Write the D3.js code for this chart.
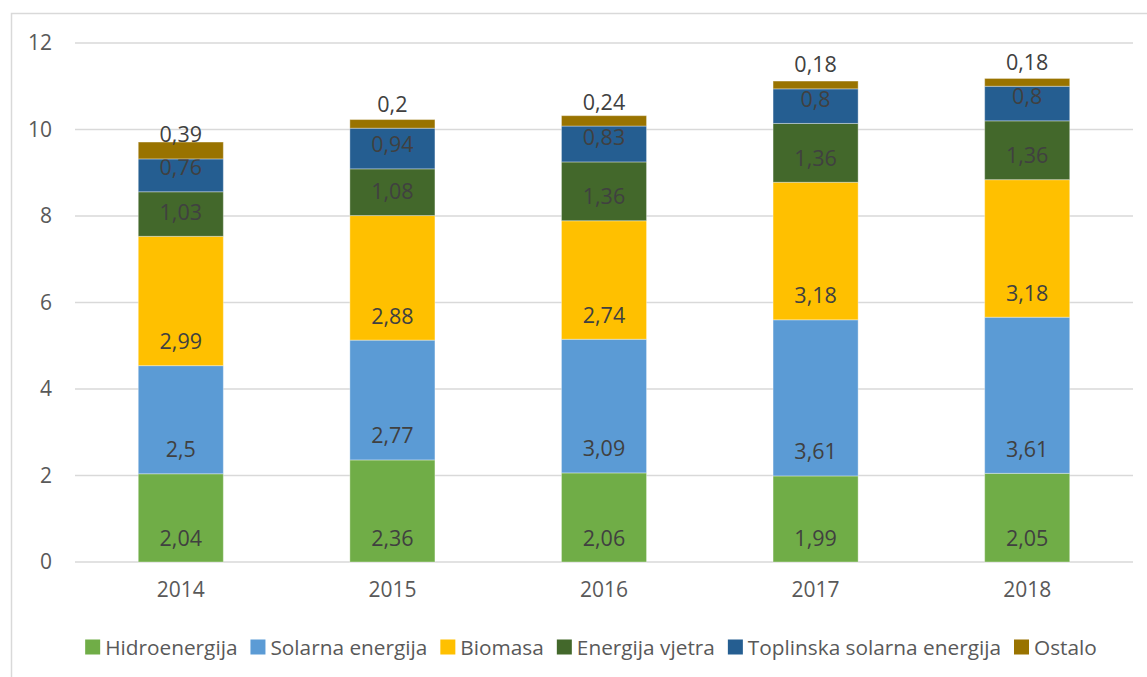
<!DOCTYPE html>
<html>
<head>
<meta charset="utf-8">
<script src="https://cdn.jsdelivr.net/npm/d3@7"></script>
<style>
  body { margin: 0; background: #fff; }
  svg text { font-family: "Open Sans", sans-serif; }
</style>
</head>
<body>
<script>
const years = ["2014", "2015", "2016", "2017", "2018"];
const seriesNames = ["Hidroenergija", "Solarna energija", "Biomasa", "Energija vjetra", "Toplinska solarna energija", "Ostalo"];
const hidro = [2.04, 2.36, 2.06, 1.99, 2.05];
const solarna = [2.5, 2.77, 3.09, 3.61, 3.61];
const biomasa = [2.99, 2.88, 2.74, 3.18, 3.18];
const vjetar = [1.03, 1.08, 1.36, 1.36, 1.36];
const toplinska = [0.76, 0.94, 0.83, 0.8, 0.8];
const ostalo = [0.39, 0.2, 0.24, 0.18, 0.18];
const yTicks = [0, 2, 4, 6, 8, 10, 12];
const colors = ["#70AD47", "#5B9BD5", "#FFC000", "#43682B", "#255E91", "#997300"];

const width = 1147;
const height = 677;
const plotLeft = 75, plotRight = 1133, plotTop = 43, plotBottom = 562;

const seriesValues = [hidro, solarna, biomasa, vjetar, toplinska, ostalo];
const rows = years.map((yr, i) => {
    const row = { year: yr };
    seriesNames.forEach((s, k) => { row[s] = seriesValues[k][i]; });
    return row;
});
const stacked = d3.stack().keys(seriesNames)(rows);

const svg = d3.select("body")
    .append("svg")
    .attr("width", width)
    .attr("height", height);

// chart frame (cut by the image edge on right and bottom)
svg.append("rect")
    .attr("x", 11.5)
    .attr("y", 13.5)
    .attr("width", width + 20)
    .attr("height", height + 20)
    .attr("fill", "none")
    .attr("stroke", "#D9D9D9")
    .attr("stroke-width", 1.5);

const x = d3.scaleBand()
    .domain(years)
    .range([plotLeft, plotRight])
    .paddingInner(0.598)
    .paddingOuter(0.299);

const y = d3.scaleLinear()
    .domain([0, 12])
    .range([plotBottom, plotTop]);

// gridlines
svg.append("g")
    .selectAll("line")
    .data(yTicks)
    .join("line")
    .attr("x1", plotLeft)
    .attr("x2", plotRight)
    .attr("y1", d => y(d))
    .attr("y2", d => y(d))
    .attr("stroke", "#D9D9D9")
    .attr("stroke-width", 1.5);

const yAxis = svg.append("g")
    .attr("transform", `translate(${plotLeft},0)`)
    .call(d3.axisLeft(y).tickValues(yTicks).tickSize(0).tickPadding(23));
yAxis.select(".domain").remove();
yAxis.selectAll("text")
    .attr("fill", "#595959")
    .style("font-size", "21px");

const xAxis = svg.append("g")
    .attr("transform", `translate(0,${plotBottom})`)
    .call(d3.axisBottom(x).tickSize(0).tickPadding(20));
xAxis.select(".domain").remove();
xAxis.selectAll("text")
    .attr("fill", "#595959")
    .style("font-size", "21px");

// bars
const layers = svg.append("g")
    .selectAll("g")
    .data(stacked)
    .join("g")
    .attr("fill", (d, i) => colors[i]);

layers.selectAll("rect")
    .data(d => d)
    .join("rect")
    .attr("x", d => x(d.data.year))
    .attr("width", x.bandwidth())
    .attr("y", d => y(d[1]))
    .attr("height", d => y(d[0]) - y(d[1]))
    .attr("stroke", "#ffffff")
    .attr("stroke-opacity", 0.35)
    .attr("stroke-width", 1);

// labels sit inside base of each segment
const fmt = v => String(v).replace(".", ",");
layers.each(function(layer) {
    d3.select(this).selectAll("text")
        .data(layer)
        .join("text")
        .attr("x", d => x(d.data.year) + x.bandwidth() / 2)
        .attr("y", d => y(d[0]) - 25)
        .attr("text-anchor", "middle")
        .attr("dominant-baseline", "central")
        .attr("fill", "#404040")
        .style("font-size", "21.5px")
        .text(d => fmt(d.data[layer.key]));
});

// legend
const legend = svg.append("g");
let lx = 0;
const itemGap = 13;
seriesNames.forEach((name, i) => {
    const item = legend.append("g").attr("transform", `translate(${lx},0)`);
    item.append("rect")
        .attr("x", 0)
        .attr("y", -7.5)
        .attr("width", 15)
        .attr("height", 15)
        .attr("fill", colors[i]);
    const t = item.append("text")
        .attr("x", 20)
        .attr("y", 0)
        .attr("dominant-baseline", "central")
        .attr("fill", "#595959")
        .style("font-size", "20.8px")
        .text(name);
    lx += 20 + t.node().getComputedTextLength() + itemGap;
});
const legendWidth = lx - itemGap;
legend.attr("transform", `translate(${591 - legendWidth / 2},647)`);
</script>
</body>
</html>
